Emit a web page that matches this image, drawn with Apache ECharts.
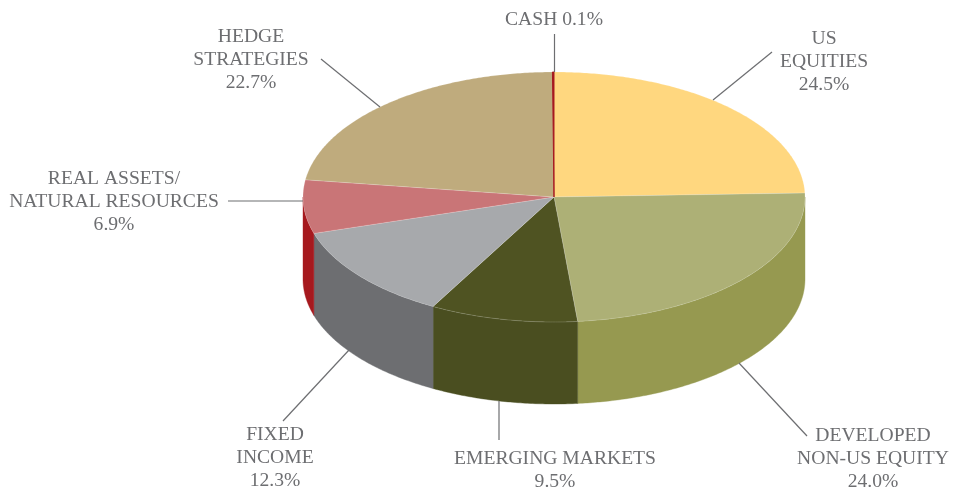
<!DOCTYPE html>
<html>
<head>
<meta charset="utf-8">
<style>html,body{margin:0;padding:0;background:#fff}#c{width:955px;height:488px}</style>
<script src="https://cdn.jsdelivr.net/npm/echarts@6/dist/echarts.min.js"></script>
</head>
<body>
<div id="c"></div>
<script>
const categories = ['US\nEQUITIES', 'DEVELOPED\nNON-US EQUITY', 'EMERGING MARKETS', 'FIXED\nINCOME', 'REAL ASSETS/\nNATURAL RESOURCES', 'HEDGE\nSTRATEGIES', 'CASH'];
const values = [24.5, 24.0, 9.5, 12.3, 6.9, 22.7, 0.1];
const topColors = ['#FFD77F', '#ADB076', '#4F5322', '#A7A9AC', '#C97577', '#BFAB7D', '#A6191E'];
const wallColors = ['#D9B45F', '#969950', '#4A4E20', '#6D6E71', '#A6191E', '#9C8A5C', '#7F1215'];

// Layout of the tilted pie
const cx = 554, cy = 197, rx = 251, ry = 125, depth = 82;
// Layout of the labels: text centre and leader line ends
const textPos = [[824, 62], [873, 459], [555, 470], [275, 458], [114, 202], [251, 60], [554, 20]];
const leaders = [
  [772, 52, 713, 100], [807, 436, 739, 363], [499, 440, 499, 401], [283, 421, 349, 350],
  [228, 201, 303, 201], [321, 59, 380, 107], [554.5, 34, 554.5, 72]
];

const total = values.reduce((a, b) => a + b, 0);
const angleAt = i => values.slice(0, i).reduce((a, b) => a + b, 0) / total * Math.PI * 2;
const arcPoint = (a, dy) => [cx + rx * Math.sin(a), cy - ry * Math.cos(a) + dy];
function arc(a0, a1, dy) {
  const n = Math.max(2, Math.ceil((a1 - a0) / 0.01));
  const pts = [];
  for (let k = 0; k <= n; k++) pts.push(arcPoint(a0 + (a1 - a0) * k / n, dy));
  return pts;
}

const chart = echarts.init(document.getElementById('c'), null, { renderer: 'canvas' });
chart.setOption({
  animation: false,
  backgroundColor: '#ffffff',
  series: [
    {
      type: 'custom', coordinateSystem: 'none', silent: true, z: 1,
      data: values,
      renderItem(params) {
        const i = params.dataIndex;
        const a0 = Math.max(angleAt(i), Math.PI / 2);
        const a1 = Math.min(angleAt(i + 1), Math.PI * 1.5);
        if (a1 <= a0) return { type: 'group', children: [] };
        return {
          type: 'polygon',
          shape: { points: arc(a0, a1, 0).concat(arc(a0, a1, depth).reverse()) },
          style: { fill: wallColors[i], stroke: wallColors[i], lineWidth: 0.4 }
        };
      }
    },
    {
      type: 'custom', coordinateSystem: 'none', silent: true, z: 2,
      data: values,
      renderItem(params) {
        const i = params.dataIndex;
        const pts = [[cx, cy]].concat(arc(angleAt(i), angleAt(i + 1), 0));
        return {
          type: 'polygon',
          shape: { points: pts },
          style: { fill: topColors[i], stroke: i === 6 ? topColors[i] : 'rgba(255,255,255,0.28)', lineWidth: i === 6 ? 1 : 0.6 }
        };
      }
    },
    {
      type: 'custom', coordinateSystem: 'none', silent: true, z: 3,
      data: values,
      renderItem(params, api) {
        const i = params.dataIndex;
        const l = leaders[i];
        const v = api.value(0).toFixed(1) + '%';
        const text = categories[i] + (i === 6 ? ' ' : '\n') + v;
        return {
          type: 'group',
          children: [
            {
              type: 'line',
              shape: { x1: l[0], y1: l[1], x2: l[2], y2: l[3] },
              style: { stroke: '#6D6E71', lineWidth: 1.2 }
            },
            {
              type: 'text',
              x: textPos[i][0], y: textPos[i][1],
              style: {
                text, align: 'center', verticalAlign: 'middle', lineHeight: 23,
                fill: '#6D6E71', font: '19.6px "Liberation Serif"'
              }
            }
          ]
        };
      }
    }
  ]
});
</script>
</body>
</html>
